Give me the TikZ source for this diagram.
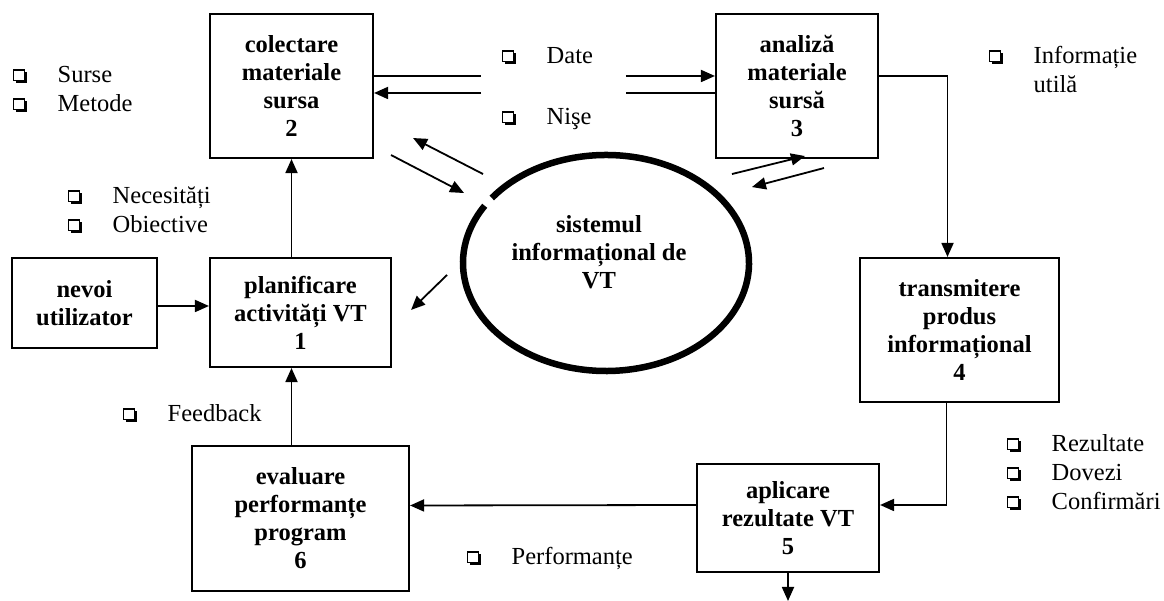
\documentclass[tikz,border=0pt]{standalone}
\usepackage{fontspec}
\setmainfont{Liberation Serif}
\usetikzlibrary{arrows.meta,shapes.geometric}

\newcommand{\boxfont}{\fontsize{24.5}{28}\selectfont\bfseries}
\newcommand{\lstfont}{\fontsize{24.5}{29}\selectfont}
\newcommand{\chk}{\tikz[baseline=0pt, x=1pt, y=1pt]{\draw [line width=1.2pt] (0.6, 2.6) rectangle (11, 13); \fill (2.5, 0) rectangle (13.5, 2.6); \fill (11, 0) rectangle (13.5, 11);}}

\tikzset{
    box/.style = {draw, line width=2.1pt, align=center, font=\boxfont, inner sep=0pt},
    arr/.style = {-{Triangle[length=14pt, width=12pt]}, line width=1.8pt},
    plain/.style = {line width=1.8pt},
    lst/.style = {anchor=base west, inner sep=0pt, font=\lstfont},
    ring/.style = {line width=6.5pt}
}

\begin{document}
\begin{tikzpicture}[x=1pt, y=1pt]
        \useasboundingbox (0, 0) rectangle (1164, 601);
        \node [box, minimum width=163pt, minimum height=144pt] (b2) at (291.5, 515) {colectare\\materiale\\sursa\\2};
        \node [box, minimum width=162pt, minimum height=144pt] (b3) at (797, 515) {analiză\\materiale\\sursă\\3};
        \node [box, minimum width=181pt, minimum height=109pt] (b1) at (300.5, 288.5) {planificare\\activități VT\\1};
        \node [box, minimum width=145pt, minimum height=90pt] (nev) at (84.5, 298) {nevoi\\utilizator};
        \node [box, minimum width=199pt, minimum height=144pt] (b4) at (959.5, 271) {transmitere\\produs\\informațional\\4};
        \node [box, minimum width=182pt, minimum height=108pt] (b5) at (788, 83) {aplicare\\rezultate VT\\5};
        \node [box, minimum width=217pt, minimum height=145pt] (b6) at (300.5, 82.5) {evaluare\\performanțe\\program\\6};
        \node [font=\boxfont, align=center, inner sep=0pt] (sys) at (599, 349) {sistemul\\informațional de\\VT};
        \coordinate (ring) at (606, 338);
        \draw [ring] (ring) ++(148:143 and 108) arc [start angle=148, end angle=503, x radius=143, y radius=108];
        \coordinate (out) at (788, 0);

        \draw [plain] ([yshift=10]b2.east) -- ([shift={(107, 10)}]b2.east);
        \draw [arr] ([shift={(-89, 10)}]b3.west) -- ([yshift=10]b3.west);
        \draw [plain] ([yshift=-7]b3.west) -- ([shift={(-89, -7)}]b3.west);
        \draw [arr] ([shift={(107, -7)}]b2.east) -- ([yshift=-7]b2.east);
        \draw [arr] ([shift={(109, -15)}]b2.south east) -- ([shift={(39, 21)}]b2.south east);
        \draw [arr] ([shift={(17, 4)}]b2.south east) -- ([shift={(90, -34)}]b2.south east);
        \draw [arr] ([shift={(17, -15)}]b3.south west) -- ([shift={(90, 3)}]b3.south west);
        \draw [arr] ([shift={(109, -9)}]b3.south west) -- ([shift={(37, -28)}]b3.south west);
        \draw [arr] ([shift={(55, -18)}]b1.north east) -- ([shift={(19, -53)}]b1.north east);
        \draw [arr] ([yshift=10]b3.east) -| ([xshift=-12]b4.north);
        \draw [arr] ([xshift=-13]b4.south) |- ([yshift=13]b5.east);
        \draw [arr] ([yshift=13]b5.west) -- ([yshift=13]b6.east);
        \draw [arr] (b5.south) -- (out);
        \draw [arr] (b6.north -| b2.south) -- (b1.south -| b2.south);
        \draw [arr] (b1.north -| b2.south) -- (b2.south);
        \draw [arr] ([yshift=-3]nev.east) -- ([yshift=-3]nev.east -| b1.west);

        \node [lst] (lsrc) at (13, 518) {\begin{tabular}[t]{@{}l@{\hspace{31pt}}l@{}}\chk & Surse\\ \chk & Metode\end{tabular}};
        \node [lst] (lneed) at (68, 397) {\begin{tabular}[t]{@{}l@{\hspace{31pt}}l@{}}\chk & Necesități\\ \chk & Obiective\end{tabular}};
        \node [lst] (ldate) at (502, 537) {\chk\hspace{31pt}Date};
        \node [lst] (lnise) at (502, 476) {\chk\hspace{31pt}Nişe};
        \node [lst] (linfo) at (989, 537) {\begin{tabular}[t]{@{}l@{\hspace{31pt}}l@{}}\chk & Informație\\ & utilă\end{tabular}};
        \node [lst] (lfeed) at (123, 179) {\chk\hspace{31pt}Feedback};
        \node [lst] (lres) at (1007, 149) {\begin{tabular}[t]{@{}l@{\hspace{31pt}}l@{}}\chk & Rezultate\\ \chk & Dovezi\\ \chk & Confirmări\end{tabular}};
        \node [lst] (lperf) at (467, 36) {\chk\hspace{31pt}Performanțe};
    \end{tikzpicture}
\end{document}
